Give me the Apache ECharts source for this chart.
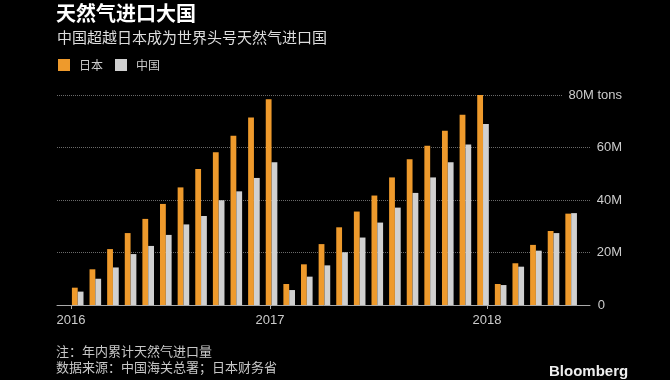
<!DOCTYPE html>
<html>
<head>
<meta charset="utf-8">
<script src="https://cdn.jsdelivr.net/npm/echarts@6/dist/echarts.min.js"></script>
<style>
html,body{margin:0;padding:0;background:#000;}
#c{width:670px;height:380px;}
</style>
</head>
<body>
<div id="c"></div>
<script>
// ---- data ----
var months = ['2016-01','2016-02','2016-03','2016-04','2016-05','2016-06','2016-07','2016-08','2016-09','2016-10','2016-11','2016-12',
              '2017-01','2017-02','2017-03','2017-04','2017-05','2017-06','2017-07','2017-08','2017-09','2017-10','2017-11','2017-12',
              '2018-01','2018-02','2018-03','2018-04','2018-05'];
var japan = [6.6,13.6,21.3,27.4,32.8,38.5,44.8,51.8,58.2,64.5,71.4,78.4,
             8.0,15.5,23.2,29.6,35.6,41.7,48.6,55.5,60.7,66.4,72.5,80.0,
             8.0,15.9,22.9,28.2,34.8];
var china = [5.1,10.0,14.3,19.4,22.5,26.7,30.7,33.9,39.9,43.3,48.4,54.4,
             5.7,10.8,15.1,20.1,25.7,31.4,37.1,42.7,48.6,54.4,61.1,69.0,
             7.6,14.6,20.7,27.4,35.0];
var yearTicks = [-0.38, 10.91, 23.23];
var yearLabels = ['2016','2017','2018'];
var yTickLabels = ['0','20M','40M','60M','80M tons'];
var seriesNames = ['日本','中国'];

function pairs(arr){ return arr.map(function(v,i){ return [i, v]; }); }

var chart = echarts.init(document.getElementById('c'));
chart.setOption({
  backgroundColor: '#000',
  animation: false,
  title: [
    {text: '天然气进口大国', left: 56, top: 3, padding: 0,
     textStyle: {color: '#fff', fontSize: 20, fontWeight: 'bold', fontFamily: 'Noto Sans CJK SC'}},
    {text: '中国超越日本成为世界头号天然气进口国', left: 57, top: 30, padding: 0,
     textStyle: {color: '#ddd', fontSize: 15, fontWeight: 'normal', fontFamily: 'Noto Sans CJK SC'}},
    {text: '注：年内累计天然气进口量', left: 56, top: 345, padding: 0,
     textStyle: {color: '#c8c8c8', fontSize: 13, fontWeight: 'normal', fontFamily: 'Noto Sans CJK SC'}},
    {text: '数据来源：中国海关总署；日本财务省', left: 56, top: 361, padding: 0,
     textStyle: {color: '#c8c8c8', fontSize: 13, fontWeight: 'normal', fontFamily: 'Noto Sans CJK SC'}},
    {text: 'Bloomberg', left: 549, top: 364, padding: 0,
     textStyle: {color: '#eee', fontSize: 15, fontWeight: 'bold', fontFamily: 'Liberation Sans'}}
  ],
  legend: {
    left: 58, top: 59, padding: 0, itemWidth: 12, itemHeight: 12, itemGap: 12, icon: 'rect',
    data: seriesNames,
    textStyle: {color: '#ccc', fontSize: 12, fontFamily: 'Noto Sans CJK SC', padding: [0,0,0,4]}
  },
  grid: {left: 57, right: 80, top: 95, bottom: 75},
  xAxis: {
    type: 'value', min: -1.175, max: 29.07,
    splitLine: {show: false},
    axisLine: {show: true, lineStyle: {color: '#aaa', width: 1}},
    axisTick: {show: true, customValues: yearTicks, length: 4, lineStyle: {color: '#aaa'}},
    axisLabel: {
      customValues: yearTicks, color: '#ccc', fontSize: 13, fontFamily: 'Liberation Sans', margin: 9,
      formatter: function(v){
        var k = 0, best = 1e9;
        yearTicks.forEach(function(t,i){ var d = Math.abs(t - v); if (d < best){best = d; k = i;} });
        return yearLabels[k];
      }
    }
  },
  yAxis: {
    type: 'value', position: 'right', min: 0, max: 80, interval: 20,
    axisLine: {show: false}, axisTick: {show: false},
    splitLine: {show: true, lineStyle: {color: '#6a6a6a', type: 'dotted', width: 1}},
    axisLabel: {
      color: '#ccc', fontSize: 13, fontFamily: 'Liberation Sans', align: 'right', margin: 32,
      formatter: function(v){
        var s = yTickLabels[Math.round(v/20)];
        if (v === 0) return '{z|' + s + '}';
        if (v === 80) return '{t|' + s + '}';
        return s;
      },
      rich: {
        z: {color: '#ccc', fontSize: 13, fontFamily: 'Liberation Sans', padding: [0,17,0,0]},
        t: {color: '#ccc', fontSize: 13, fontFamily: 'Liberation Sans', backgroundColor: '#000', padding: [2,0,2,6]}
      }
    }
  },
  series: [
    {name: seriesNames[0], type: 'bar', data: pairs(japan), barWidth: 5.8, barGap: '0%',
     itemStyle: {color: '#EE9A2C'}},
    {name: seriesNames[1], type: 'bar', data: pairs(china), barWidth: 5.8, barGap: '0%',
     itemStyle: {color: '#D0D0D0'}}
  ]
});
</script>
</body>
</html>
